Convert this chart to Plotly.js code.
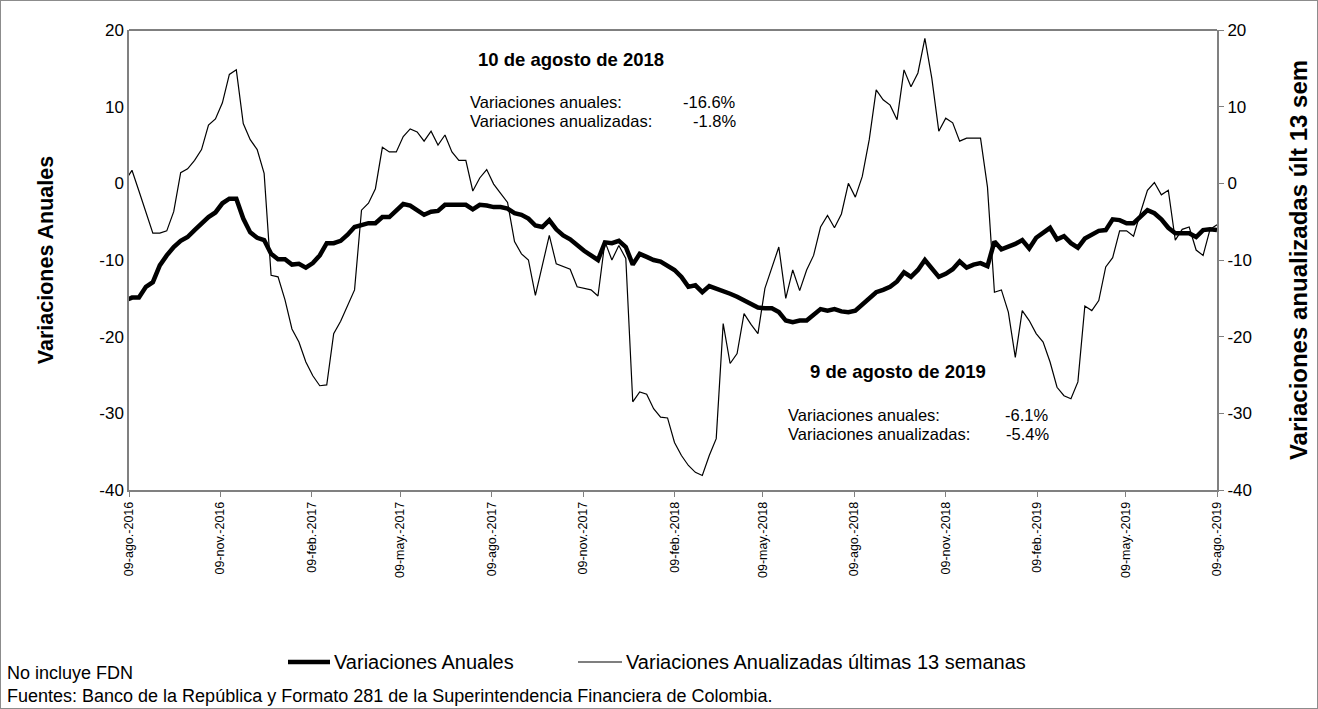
<!DOCTYPE html>
<html>
<head>
<meta charset="utf-8">
<script src="https://cdn.plot.ly/plotly-3.0.1.min.js"></script>
<style>
  html, body { margin: 0; padding: 0; background: #fff; }
  #wrap { width: 1318px; height: 709px; box-sizing: border-box; border: 1px solid #8c8c8c; }
  #chart { width: 1316px; height: 707px; }
</style>
</head>
<body>
<div id="wrap"><div id="chart"></div></div>
<script>
// Weekly series (Fridays), first Friday 2016-08-05, last 2019-08-09
const firstFriday = '2016-08-05';

const anuales = [
  -15.3, -14.9, -14.9, -13.5, -12.9, -10.7, -9.4, -8.3, -7.5, -7.0,
  -6.1, -5.2, -4.4, -3.8, -2.6, -2.0, -2.0, -4.6, -6.4, -7.1,
  -7.4, -9.2, -9.9, -9.9, -10.6, -10.5, -11.0, -10.4, -9.4, -7.8,
  -7.8, -7.5, -6.7, -5.7, -5.4, -5.2, -5.2, -4.4, -4.4, -3.5,
  -2.7, -2.9, -3.5, -4.1, -3.7, -3.6, -2.8, -2.8, -2.8, -2.8,
  -3.4, -2.8, -2.9, -3.1, -3.1, -3.3, -3.9, -4.1, -4.6, -5.5,
  -5.7, -4.8, -6.0, -6.8, -7.3, -8.1, -8.8, -9.4, -10.0, -7.7,
  -7.8, -7.5, -8.3, -10.6, -9.2, -9.6, -10.0, -10.2, -10.8, -11.3,
  -12.2, -13.5, -13.3, -14.2, -13.4, -13.7, -14.1, -14.4, -14.8, -15.3,
  -15.7, -16.2, -16.3, -16.3, -16.8, -17.9, -18.1, -17.9, -17.9, -17.2,
  -16.4, -16.6, -16.4, -16.7, -16.8, -16.6, -15.8, -15.0, -14.2, -13.9,
  -13.5, -12.8, -11.6, -12.2, -11.3, -10.0, -11.1, -12.2, -11.8, -11.2,
  -10.2, -11.0, -10.6, -10.4, -10.8, -7.6, -8.6, -8.3, -7.9, -7.4,
  -8.5, -7.1, -6.5, -5.8, -7.3, -6.9, -7.8, -8.4, -7.2, -6.7,
  -6.2, -6.1, -4.7, -4.8, -5.2, -5.2, -4.4, -3.5, -3.9, -4.7,
  -5.8, -6.5, -6.5, -6.5, -7.0, -6.1, -6.0, -6.1
];

const anualizadas = [
  0.3, 1.7, -1.0, -3.7, -6.5, -6.5, -6.2, -3.7, 1.4, 1.9,
  3.0, 4.4, 7.6, 8.4, 10.5, 14.2, 14.8, 7.8, 5.7, 4.4,
  1.3, -12.0, -12.2, -15.2, -19.0, -20.7, -23.3, -25.1, -26.4, -26.3,
  -19.6, -18.0, -15.9, -13.9, -3.5, -2.6, -0.7, 4.7, 4.1, 4.1,
  6.1, 7.1, 6.7, 5.5, 6.8, 5.0, 6.3, 4.1, 3.0, 3.0,
  -1.0, 0.7, 1.8, -0.1, -1.3, -2.5, -7.6, -9.2, -10.0, -14.6,
  -10.7, -6.8, -10.5, -10.9, -11.2, -13.5, -13.7, -13.9, -14.7, -7.6,
  -10.0, -8.1, -9.8, -28.5, -27.2, -27.5, -29.4, -30.5, -30.6, -33.8,
  -35.5, -36.8, -37.7, -38.1, -35.5, -33.3, -18.3, -23.5, -22.2, -17.0,
  -18.4, -19.6, -13.7, -11.1, -8.3, -15.0, -11.3, -14.0, -11.3, -9.4,
  -5.7, -4.2, -5.8, -4.0, 0.0, -1.8, 0.9, 5.7, 12.2, 10.9,
  10.2, 8.3, 14.8, 12.6, 14.4, 18.9, 13.7, 6.8, 8.5, 7.9,
  5.5, 5.9, 5.9, 5.9, -0.5, -14.2, -13.9, -16.8, -22.7, -16.6,
  -17.9, -19.6, -20.7, -23.3, -26.6, -27.7, -28.1, -25.9, -16.0, -16.6,
  -15.3, -10.9, -9.7, -6.2, -6.2, -6.9, -3.8, -0.9, 0.1, -1.5,
  -0.9, -7.4, -6.0, -5.7, -8.7, -9.4, -6.0, -5.4
];

const tickDates = [
  '2016-08-09', '2016-11-09', '2017-02-09', '2017-05-09', '2017-08-09',
  '2017-11-09', '2018-02-09', '2018-05-09', '2018-08-09', '2018-11-09',
  '2019-02-09', '2019-05-09', '2019-08-09'
];
const tickLabels = [
  '09-ago.-2016', '09-nov.-2016', '09-feb.-2017', '09-may.-2017', '09-ago.-2017',
  '09-nov.-2017', '09-feb.-2018', '09-may.-2018', '09-ago.-2018', '09-nov.-2018',
  '09-feb.-2019', '09-may.-2019', '09-ago.-2019'
];
const yTickVals = [-40, -30, -20, -10, 0, 10, 20];
const yTickLabels = ['-40', '-30', '-20', '-10', '0', '10', '20'];

const seriesNames = ['Variaciones Anuales', 'Variaciones Anualizadas últimas 13 semanas'];
const noteLines = ['No incluye FDN',
  'Fuentes: Banco de la República y Formato 281 de la Superintendencia Financiera de Colombia.'];
const idx2018 = anuales.length - 1 - 52;  // 10 de agosto de 2018
const idx2019 = anuales.length - 1;       // 9 de agosto de 2019

// weekly dates
const start = Date.UTC(2016, 7, 5);
const dates = anuales.map((_, k) => new Date(start + k * 7 * 86400000).toISOString().slice(0, 10));

const FONT = 'Liberation Sans, Arial, sans-serif';
const pct = v => v.toFixed(1) + '%';

const traces = [
  { x: dates, y: anuales, name: seriesNames[0], type: 'scatter', mode: 'lines',
    line: { color: '#000', width: 4.5 }, yaxis: 'y', hoverinfo: 'x+y' },
  { x: dates, y: anualizadas, name: seriesNames[1], type: 'scatter', mode: 'lines',
    line: { color: '#000', width: 1.2 }, yaxis: 'y2', hoverinfo: 'x+y' }
];

// pixel -> paper helpers (plot area: x 129..1217, y 30..490 in page px)
const px = v => (v - 129) / 1088;
const py = v => (490 - v) / 460;

const ann = (text, x, y, xanchor, size, bold) => ({
  text: bold ? '<b>' + text + '</b>' : text, xref: 'paper', yref: 'paper',
  x: px(x), y: py(y), xanchor: xanchor, yanchor: 'middle', showarrow: false,
  font: { family: FONT, size: size, color: '#000' }
});

const annotations = [
  ann('10 de agosto de 2018', 476, 60, 'left', 18.5, true),
  ann('Variaciones anuales:', 468, 102, 'left', 16.5),
  ann(pct(anuales[idx2018]), 738, 102, 'right', 16.5),
  ann('Variaciones anualizadas:', 468, 121, 'left', 16.5),
  ann(pct(anualizadas[idx2018]), 738, 121, 'right', 16.5),
  ann('9 de agosto de 2019', 808, 372, 'left', 18.5, true),
  ann('Variaciones anuales:', 786, 415, 'left', 16.5),
  ann(pct(anuales[idx2019]), 1050, 415, 'right', 16.5),
  ann('Variaciones anualizadas:', 786, 434, 'left', 16.5),
  ann(pct(anualizadas[idx2019]), 1051, 434, 'right', 16.5),
  // legend texts
  ann(seriesNames[0], 332, 662, 'left', 20),
  ann(seriesNames[1], 624, 662, 'left', 20),
  // notes
  ann(noteLines[0], 5, 673, 'left', 18),
  ann(noteLines[1], 5, 696, 'left', 18)
];

const shapes = [
  { type: 'line', xref: 'paper', yref: 'paper', x0: 0, x1: 1, y0: 1, y1: 1,
    line: { color: '#000', width: 1 } },
  // legend samples
  { type: 'line', xref: 'paper', yref: 'paper', x0: px(288), x1: px(330), y0: py(662), y1: py(662),
    line: { color: '#000', width: 4.5 } },
  { type: 'line', xref: 'paper', yref: 'paper', x0: px(578), x1: px(622), y0: py(662), y1: py(662),
    line: { color: '#000', width: 1.2 } }
];

const layout = {
  width: 1316, height: 707,
  margin: { l: 128, r: 100, t: 29, b: 218 },
  paper_bgcolor: '#fff', plot_bgcolor: '#fff',
  font: { family: FONT, color: '#000' },
  showlegend: false,
  xaxis: {
    type: 'date', range: ['2016-08-09', '2019-08-09'],
    tickmode: 'array', tickvals: tickDates, ticktext: tickLabels,
    tickangle: -90, tickfont: { family: FONT, size: 12.5, color: '#000' },
    ticks: 'outside', ticklen: 5, tickcolor: '#808080',
    showline: true, linecolor: '#808080', linewidth: 1.5,
    showgrid: false, zeroline: false
  },
  yaxis: {
    range: [-40, 20], tickmode: 'array', tickvals: yTickVals, ticktext: yTickLabels,
    tickfont: { family: FONT, size: 17, color: '#000' },
    ticks: '', showline: true, linecolor: '#808080', linewidth: 1.5,
    showgrid: false, zeroline: false,
    title: { text: '<b>Variaciones Anuales</b>', font: { family: FONT, size: 21.5, color: '#000' }, standoff: 40 }
  },
  yaxis2: {
    range: [-40, 20], tickmode: 'array', tickvals: yTickVals, ticktext: yTickLabels,
    overlaying: 'y', side: 'right',
    tickfont: { family: FONT, size: 17, color: '#000' },
    ticks: 'outside', ticklen: 5, tickcolor: '#808080',
    showline: true, linecolor: '#808080', linewidth: 2,
    showgrid: false, zeroline: false,
    title: { text: '<b>Variaciones anualizadas últ 13 sem</b>', font: { family: FONT, size: 24, color: '#000' }, standoff: 39 }
  },
  annotations: annotations,
  shapes: shapes
};

Plotly.newPlot('chart', traces, layout, { displayModeBar: false, responsive: false });
</script>
</body>
</html>
